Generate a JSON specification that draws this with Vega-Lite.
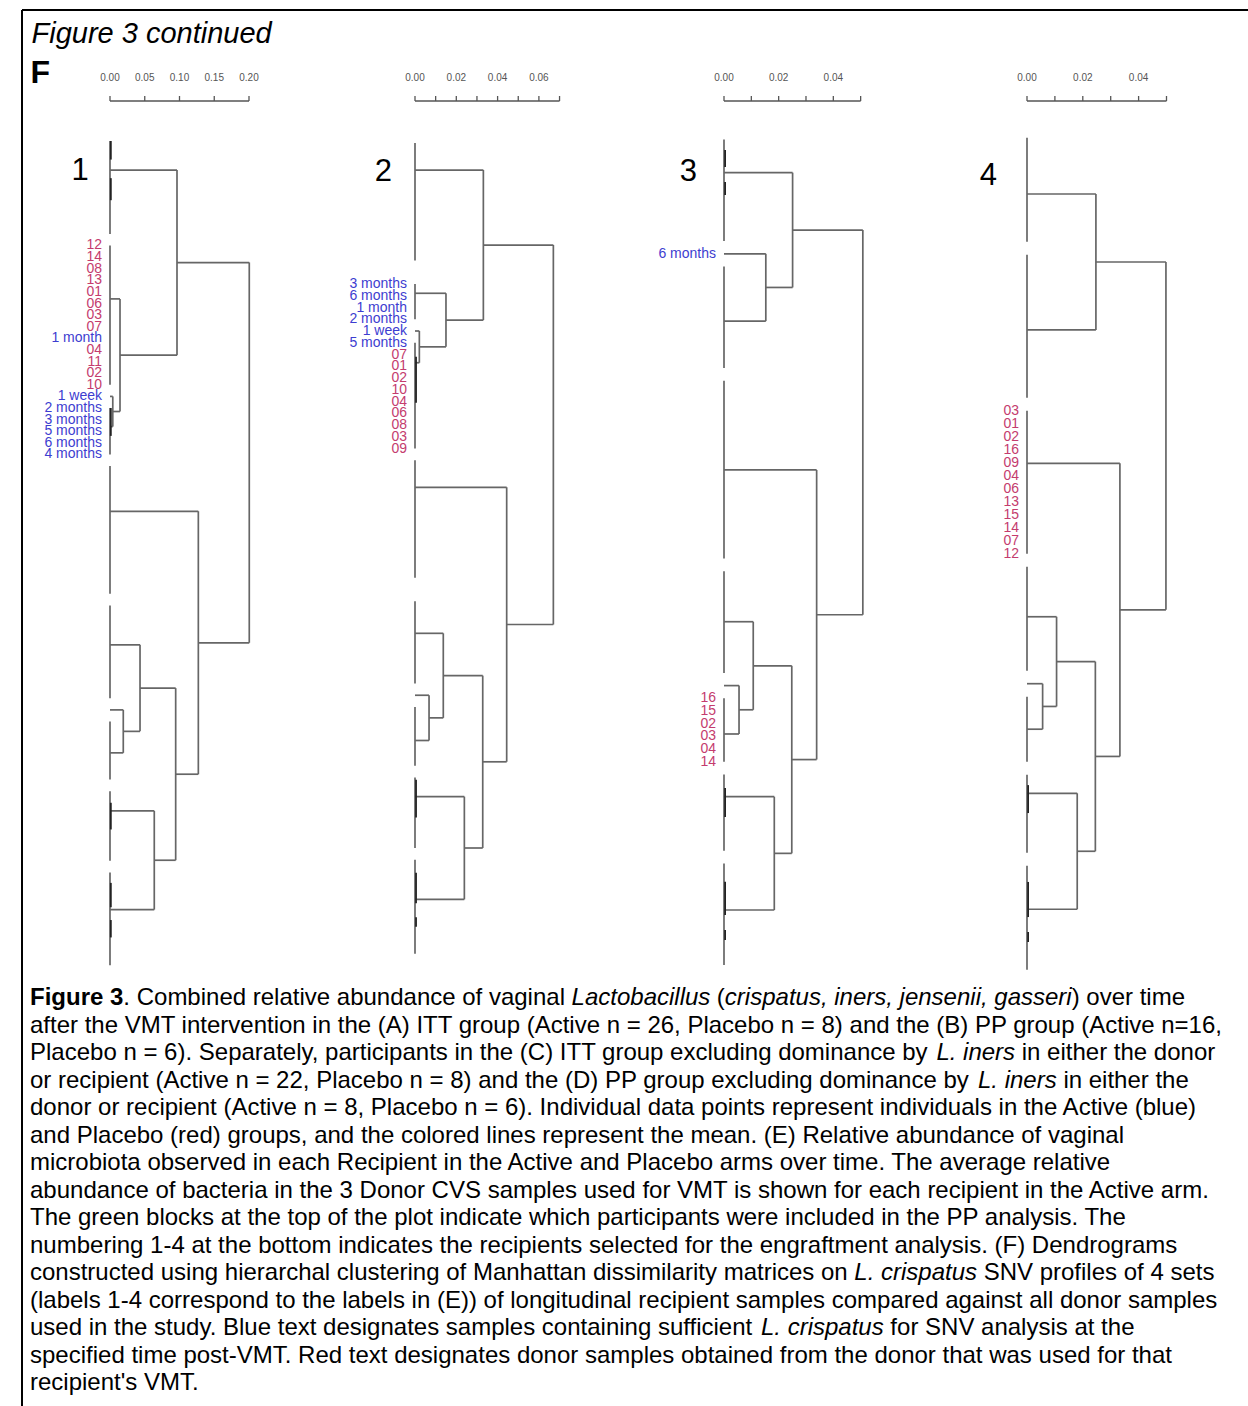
{
  "$schema": "https://vega.github.io/schema/vega-lite/v6.json",
  "width": 1224,
  "height": 1396,
  "autosize": {"type": "none"},
  "padding": {"left": 22, "top": 10, "right": 2, "bottom": 0},
  "background": "white",
  "config": {"view": {"stroke": null}, "font": "Liberation Sans"},
  "datasets": {
    "seg": [
      {"p":1,"k":"leaf","x":0,"x2":0,"y":1,"y2":9},
      {"p":1,"k":"leaf","x":0,"x2":0,"y":10,"y2":22},
      {"p":1,"k":"leaf","x":0,"x2":0,"y":24,"y2":28},
      {"p":1,"k":"leaf","x":0,"x2":0,"y":29,"y2":40},
      {"p":1,"k":"leaf","x":0,"x2":0,"y":41,"y2":49},
      {"p":1,"k":"leaf","x":0,"x2":0,"y":51,"y2":56},
      {"p":1,"k":"leaf","x":0,"x2":0,"y":57,"y2":63},
      {"p":1,"k":"leaf","x":0,"x2":0,"y":64,"y2":72},
      {"p":1,"k":"tight","x":0.0012,"x2":0.0012,"y":1,"y2":2.6},
      {"p":1,"k":"tight","x":0.0012,"x2":0.0012,"y":4.2,"y2":6.1},
      {"p":1,"k":"tight","x":0.0012,"x2":0.0012,"y":24,"y2":26.4},
      {"p":1,"k":"tight","x":0.0012,"x2":0.0012,"y":58,"y2":60.3},
      {"p":1,"k":"tight","x":0.0012,"x2":0.0012,"y":64.9,"y2":67},
      {"p":1,"k":"tight","x":0.0012,"x2":0.0012,"y":68.1,"y2":69.6},
      {"p":1,"k":"branch","x":0.004,"x2":0.004,"y":23,"y2":25.6},
      {"p":1,"k":"branch","x":0,"x2":0.004,"y":23,"y2":23},
      {"p":1,"k":"branch","x":0,"x2":0.004,"y":25.6,"y2":25.6},
      {"p":1,"k":"branch","x":0.0144,"x2":0.0144,"y":14.6,"y2":24.3},
      {"p":1,"k":"branch","x":0,"x2":0.0144,"y":14.6,"y2":14.6},
      {"p":1,"k":"branch","x":0.004,"x2":0.0144,"y":24.3,"y2":24.3},
      {"p":1,"k":"branch","x":0.0964,"x2":0.0964,"y":3.5,"y2":19.45},
      {"p":1,"k":"branch","x":0,"x2":0.0964,"y":3.5,"y2":3.5},
      {"p":1,"k":"branch","x":0.0144,"x2":0.0964,"y":19.45,"y2":19.45},
      {"p":1,"k":"branch","x":0.0191,"x2":0.0191,"y":50,"y2":53.7},
      {"p":1,"k":"branch","x":0,"x2":0.0191,"y":50,"y2":50},
      {"p":1,"k":"branch","x":0,"x2":0.0191,"y":53.7,"y2":53.7},
      {"p":1,"k":"branch","x":0.0432,"x2":0.0432,"y":44.4,"y2":51.85},
      {"p":1,"k":"branch","x":0,"x2":0.0432,"y":44.4,"y2":44.4},
      {"p":1,"k":"branch","x":0.0191,"x2":0.0432,"y":51.85,"y2":51.85},
      {"p":1,"k":"branch","x":0.0637,"x2":0.0637,"y":58.7,"y2":67.2},
      {"p":1,"k":"branch","x":0,"x2":0.0637,"y":58.7,"y2":58.7},
      {"p":1,"k":"branch","x":0,"x2":0.0637,"y":67.2,"y2":67.2},
      {"p":1,"k":"branch","x":0.0945,"x2":0.0945,"y":48.125,"y2":62.95},
      {"p":1,"k":"branch","x":0.0432,"x2":0.0945,"y":48.125,"y2":48.125},
      {"p":1,"k":"branch","x":0.0637,"x2":0.0945,"y":62.95,"y2":62.95},
      {"p":1,"k":"branch","x":0.1271,"x2":0.1271,"y":32.9,"y2":55.54},
      {"p":1,"k":"branch","x":0,"x2":0.1271,"y":32.9,"y2":32.9},
      {"p":1,"k":"branch","x":0.0945,"x2":0.1271,"y":55.54,"y2":55.54},
      {"p":1,"k":"branch","x":0.2004,"x2":0.2004,"y":11.475,"y2":44.22},
      {"p":1,"k":"branch","x":0.0964,"x2":0.2004,"y":11.475,"y2":11.475},
      {"p":1,"k":"branch","x":0.1271,"x2":0.2004,"y":44.22,"y2":44.22},

      {"p":2,"k":"leaf","x":0,"x2":0,"y":1,"y2":11},
      {"p":2,"k":"leaf","x":0,"x2":0,"y":13,"y2":16},
      {"p":2,"k":"leaf","x":0,"x2":0,"y":18,"y2":27},
      {"p":2,"k":"leaf","x":0,"x2":0,"y":28,"y2":38},
      {"p":2,"k":"leaf","x":0,"x2":0,"y":40,"y2":47},
      {"p":2,"k":"leaf","x":0,"x2":0,"y":49,"y2":54},
      {"p":2,"k":"leaf","x":0,"x2":0,"y":55,"y2":61},
      {"p":2,"k":"leaf","x":0,"x2":0,"y":62,"y2":70},
      {"p":2,"k":"tight","x":0.0005,"x2":0.0005,"y":19.2,"y2":23.1},
      {"p":2,"k":"tight","x":0.0005,"x2":0.0005,"y":55.2,"y2":58.4},
      {"p":2,"k":"tight","x":0.0005,"x2":0.0005,"y":63.1,"y2":65.7},
      {"p":2,"k":"tight","x":0.0005,"x2":0.0005,"y":66.9,"y2":67.7},
      {"p":2,"k":"branch","x":0.0021,"x2":0.0021,"y":17,"y2":19.7},
      {"p":2,"k":"branch","x":0,"x2":0.0021,"y":17,"y2":17},
      {"p":2,"k":"branch","x":0,"x2":0.0021,"y":19.7,"y2":19.7},
      {"p":2,"k":"branch","x":0.015,"x2":0.015,"y":13.79,"y2":18.35},
      {"p":2,"k":"branch","x":0,"x2":0.015,"y":13.79,"y2":13.79},
      {"p":2,"k":"branch","x":0.0021,"x2":0.015,"y":18.35,"y2":18.35},
      {"p":2,"k":"branch","x":0.0331,"x2":0.0331,"y":3.3,"y2":16.07},
      {"p":2,"k":"branch","x":0,"x2":0.0331,"y":3.3,"y2":3.3},
      {"p":2,"k":"branch","x":0.015,"x2":0.0331,"y":16.07,"y2":16.07},
      {"p":2,"k":"branch","x":0.0068,"x2":0.0068,"y":48,"y2":51.85},
      {"p":2,"k":"branch","x":0,"x2":0.0068,"y":48,"y2":48},
      {"p":2,"k":"branch","x":0,"x2":0.0068,"y":51.85,"y2":51.85},
      {"p":2,"k":"branch","x":0.0137,"x2":0.0137,"y":42.73,"y2":49.925},
      {"p":2,"k":"branch","x":0,"x2":0.0137,"y":42.73,"y2":42.73},
      {"p":2,"k":"branch","x":0.0068,"x2":0.0137,"y":49.925,"y2":49.925},
      {"p":2,"k":"branch","x":0.0239,"x2":0.0239,"y":56.63,"y2":65.37},
      {"p":2,"k":"branch","x":0,"x2":0.0239,"y":56.63,"y2":56.63},
      {"p":2,"k":"branch","x":0,"x2":0.0239,"y":65.37,"y2":65.37},
      {"p":2,"k":"branch","x":0.0328,"x2":0.0328,"y":46.33,"y2":61.0},
      {"p":2,"k":"branch","x":0.0137,"x2":0.0328,"y":46.33,"y2":46.33},
      {"p":2,"k":"branch","x":0.0239,"x2":0.0328,"y":61.0,"y2":61.0},
      {"p":2,"k":"branch","x":0.0444,"x2":0.0444,"y":30.3,"y2":53.665},
      {"p":2,"k":"branch","x":0,"x2":0.0444,"y":30.3,"y2":30.3},
      {"p":2,"k":"branch","x":0.0328,"x2":0.0444,"y":53.665,"y2":53.665},
      {"p":2,"k":"branch","x":0.067,"x2":0.067,"y":9.685,"y2":41.98},
      {"p":2,"k":"branch","x":0.0331,"x2":0.067,"y":9.685,"y2":9.685},
      {"p":2,"k":"branch","x":0.0444,"x2":0.067,"y":41.98,"y2":41.98},

      {"p":3,"k":"leaf","x":0,"x2":0,"y":1,"y2":9},
      {"p":3,"k":"leaf","x":0,"x2":0,"y":11,"y2":19},
      {"p":3,"k":"leaf","x":0,"x2":0,"y":20,"y2":34},
      {"p":3,"k":"leaf","x":0,"x2":0,"y":35,"y2":43},
      {"p":3,"k":"leaf","x":0,"x2":0,"y":45,"y2":50},
      {"p":3,"k":"leaf","x":0,"x2":0,"y":51,"y2":57},
      {"p":3,"k":"leaf","x":0,"x2":0,"y":58,"y2":66},
      {"p":3,"k":"tight","x":0.0004,"x2":0.0004,"y":1.83,"y2":3.17},
      {"p":3,"k":"tight","x":0.0004,"x2":0.0004,"y":4.35,"y2":5.37},
      {"p":3,"k":"tight","x":0.0004,"x2":0.0004,"y":52.06,"y2":54.35},
      {"p":3,"k":"tight","x":0.0004,"x2":0.0004,"y":59.44,"y2":62.06},
      {"p":3,"k":"tight","x":0.0004,"x2":0.0004,"y":63.24,"y2":64.03},
      {"p":3,"k":"branch","x":0.0153,"x2":0.0153,"y":10,"y2":15.3},
      {"p":3,"k":"branch","x":0,"x2":0.0153,"y":10,"y2":10},
      {"p":3,"k":"branch","x":0,"x2":0.0153,"y":15.3,"y2":15.3},
      {"p":3,"k":"branch","x":0.0251,"x2":0.0251,"y":3.61,"y2":12.65},
      {"p":3,"k":"branch","x":0,"x2":0.0251,"y":3.61,"y2":3.61},
      {"p":3,"k":"branch","x":0.0153,"x2":0.0251,"y":12.65,"y2":12.65},
      {"p":3,"k":"branch","x":0.0055,"x2":0.0055,"y":44,"y2":47.81},
      {"p":3,"k":"branch","x":0,"x2":0.0055,"y":44,"y2":44},
      {"p":3,"k":"branch","x":0,"x2":0.0055,"y":47.81,"y2":47.81},
      {"p":3,"k":"branch","x":0.0107,"x2":0.0107,"y":38.97,"y2":45.905},
      {"p":3,"k":"branch","x":0,"x2":0.0107,"y":38.97,"y2":38.97},
      {"p":3,"k":"branch","x":0.0055,"x2":0.0107,"y":45.905,"y2":45.905},
      {"p":3,"k":"branch","x":0.0184,"x2":0.0184,"y":52.75,"y2":61.67},
      {"p":3,"k":"branch","x":0,"x2":0.0184,"y":52.75,"y2":52.75},
      {"p":3,"k":"branch","x":0,"x2":0.0184,"y":61.67,"y2":61.67},
      {"p":3,"k":"branch","x":0.0248,"x2":0.0248,"y":42.44,"y2":57.21},
      {"p":3,"k":"branch","x":0.0107,"x2":0.0248,"y":42.44,"y2":42.44},
      {"p":3,"k":"branch","x":0.0184,"x2":0.0248,"y":57.21,"y2":57.21},
      {"p":3,"k":"branch","x":0.0339,"x2":0.0339,"y":27.02,"y2":49.825},
      {"p":3,"k":"branch","x":0,"x2":0.0339,"y":27.02,"y2":27.02},
      {"p":3,"k":"branch","x":0.0248,"x2":0.0339,"y":49.825,"y2":49.825},
      {"p":3,"k":"branch","x":0.0508,"x2":0.0508,"y":8.13,"y2":38.42},
      {"p":3,"k":"branch","x":0.0251,"x2":0.0508,"y":8.13,"y2":8.13},
      {"p":3,"k":"branch","x":0.0339,"x2":0.0508,"y":38.42,"y2":38.42},

      {"p":4,"k":"leaf","x":0,"x2":0,"y":1,"y2":9},
      {"p":4,"k":"leaf","x":0,"x2":0,"y":10,"y2":21},
      {"p":4,"k":"leaf","x":0,"x2":0,"y":22,"y2":33},
      {"p":4,"k":"leaf","x":0,"x2":0,"y":34,"y2":42},
      {"p":4,"k":"leaf","x":0,"x2":0,"y":44,"y2":49},
      {"p":4,"k":"leaf","x":0,"x2":0,"y":50,"y2":56},
      {"p":4,"k":"leaf","x":0,"x2":0,"y":57,"y2":65},
      {"p":4,"k":"tight","x":0.0004,"x2":0.0004,"y":50.8,"y2":52.95},
      {"p":4,"k":"tight","x":0.0004,"x2":0.0004,"y":58.25,"y2":60.95},
      {"p":4,"k":"tight","x":0.0004,"x2":0.0004,"y":62.1,"y2":62.87},
      {"p":4,"k":"branch","x":0.0247,"x2":0.0247,"y":5.33,"y2":15.79},
      {"p":4,"k":"branch","x":0,"x2":0.0247,"y":5.33,"y2":5.33},
      {"p":4,"k":"branch","x":0,"x2":0.0247,"y":15.79,"y2":15.79},
      {"p":4,"k":"branch","x":0.0056,"x2":0.0056,"y":43,"y2":46.5},
      {"p":4,"k":"branch","x":0,"x2":0.0056,"y":43,"y2":43},
      {"p":4,"k":"branch","x":0,"x2":0.0056,"y":46.5,"y2":46.5},
      {"p":4,"k":"branch","x":0.0106,"x2":0.0106,"y":37.85,"y2":44.75},
      {"p":4,"k":"branch","x":0,"x2":0.0106,"y":37.85,"y2":37.85},
      {"p":4,"k":"branch","x":0.0056,"x2":0.0106,"y":44.75,"y2":44.75},
      {"p":4,"k":"branch","x":0.018,"x2":0.018,"y":51.43,"y2":60.35},
      {"p":4,"k":"branch","x":0,"x2":0.018,"y":51.43,"y2":51.43},
      {"p":4,"k":"branch","x":0,"x2":0.018,"y":60.35,"y2":60.35},
      {"p":4,"k":"branch","x":0.0245,"x2":0.0245,"y":41.3,"y2":55.89},
      {"p":4,"k":"branch","x":0.0106,"x2":0.0245,"y":41.3,"y2":41.3},
      {"p":4,"k":"branch","x":0.018,"x2":0.0245,"y":55.89,"y2":55.89},
      {"p":4,"k":"branch","x":0.0333,"x2":0.0333,"y":26.05,"y2":48.595},
      {"p":4,"k":"branch","x":0,"x2":0.0333,"y":26.05,"y2":26.05},
      {"p":4,"k":"branch","x":0.0245,"x2":0.0333,"y":48.595,"y2":48.595},
      {"p":4,"k":"branch","x":0.0498,"x2":0.0498,"y":10.56,"y2":37.32},
      {"p":4,"k":"branch","x":0.0247,"x2":0.0498,"y":10.56,"y2":10.56},
      {"p":4,"k":"branch","x":0.0333,"x2":0.0498,"y":37.32,"y2":37.32}
    ],
    "lab": [
      {"p":1,"i":10,"t":"12","g":"donor"},
      {"p":1,"i":11,"t":"14","g":"donor"},
      {"p":1,"i":12,"t":"08","g":"donor"},
      {"p":1,"i":13,"t":"13","g":"donor"},
      {"p":1,"i":14,"t":"01","g":"donor"},
      {"p":1,"i":15,"t":"06","g":"donor"},
      {"p":1,"i":16,"t":"03","g":"donor"},
      {"p":1,"i":17,"t":"07","g":"donor"},
      {"p":1,"i":18,"t":"1 month","g":"recipient"},
      {"p":1,"i":19,"t":"04","g":"donor"},
      {"p":1,"i":20,"t":"11","g":"donor"},
      {"p":1,"i":21,"t":"02","g":"donor"},
      {"p":1,"i":22,"t":"10","g":"donor"},
      {"p":1,"i":23,"t":"1 week","g":"recipient"},
      {"p":1,"i":24,"t":"2 months","g":"recipient"},
      {"p":1,"i":25,"t":"3 months","g":"recipient"},
      {"p":1,"i":26,"t":"5 months","g":"recipient"},
      {"p":1,"i":27,"t":"6 months","g":"recipient"},
      {"p":1,"i":28,"t":"4 months","g":"recipient"},
      {"p":2,"i":13,"t":"3 months","g":"recipient"},
      {"p":2,"i":14,"t":"6 months","g":"recipient"},
      {"p":2,"i":15,"t":"1 month","g":"recipient"},
      {"p":2,"i":16,"t":"2 months","g":"recipient"},
      {"p":2,"i":17,"t":"1 week","g":"recipient"},
      {"p":2,"i":18,"t":"5 months","g":"recipient"},
      {"p":2,"i":19,"t":"07","g":"donor"},
      {"p":2,"i":20,"t":"01","g":"donor"},
      {"p":2,"i":21,"t":"02","g":"donor"},
      {"p":2,"i":22,"t":"10","g":"donor"},
      {"p":2,"i":23,"t":"04","g":"donor"},
      {"p":2,"i":24,"t":"06","g":"donor"},
      {"p":2,"i":25,"t":"08","g":"donor"},
      {"p":2,"i":26,"t":"03","g":"donor"},
      {"p":2,"i":27,"t":"09","g":"donor"},
      {"p":3,"i":10,"t":"6 months","g":"recipient"},
      {"p":3,"i":45,"t":"16","g":"donor"},
      {"p":3,"i":46,"t":"15","g":"donor"},
      {"p":3,"i":47,"t":"02","g":"donor"},
      {"p":3,"i":48,"t":"03","g":"donor"},
      {"p":3,"i":49,"t":"04","g":"donor"},
      {"p":3,"i":50,"t":"14","g":"donor"},
      {"p":4,"i":22,"t":"03","g":"donor"},
      {"p":4,"i":23,"t":"01","g":"donor"},
      {"p":4,"i":24,"t":"02","g":"donor"},
      {"p":4,"i":25,"t":"16","g":"donor"},
      {"p":4,"i":26,"t":"09","g":"donor"},
      {"p":4,"i":27,"t":"04","g":"donor"},
      {"p":4,"i":28,"t":"06","g":"donor"},
      {"p":4,"i":29,"t":"13","g":"donor"},
      {"p":4,"i":30,"t":"15","g":"donor"},
      {"p":4,"i":31,"t":"14","g":"donor"},
      {"p":4,"i":32,"t":"07","g":"donor"},
      {"p":4,"i":33,"t":"12","g":"donor"}
    ],
    "nums": [
      {"p":1,"n":"1"},{"p":2,"n":"2"},{"p":3,"n":"3"},{"p":4,"n":"4"}
    ],
    "bars": [
      {"p":1,"from":0,"to":0.2},
      {"p":2,"from":0,"to":0.07},
      {"p":3,"from":0,"to":0.05},
      {"p":4,"from":0,"to":0.05}
    ],
    "ticks": [
      {"p":1,"v":0,"lab":"0.00"},{"p":1,"v":0.05,"lab":"0.05"},{"p":1,"v":0.1,"lab":"0.10"},{"p":1,"v":0.15,"lab":"0.15"},{"p":1,"v":0.2,"lab":"0.20"},
      {"p":2,"v":0,"lab":"0.00"},{"p":2,"v":0.01,"lab":""},{"p":2,"v":0.02,"lab":"0.02"},{"p":2,"v":0.03,"lab":""},{"p":2,"v":0.04,"lab":"0.04"},{"p":2,"v":0.05,"lab":""},{"p":2,"v":0.06,"lab":"0.06"},{"p":2,"v":0.07,"lab":""},
      {"p":3,"v":0,"lab":"0.00"},{"p":3,"v":0.01,"lab":""},{"p":3,"v":0.02,"lab":"0.02"},{"p":3,"v":0.03,"lab":""},{"p":3,"v":0.04,"lab":"0.04"},{"p":3,"v":0.05,"lab":""},
      {"p":4,"v":0,"lab":"0.00"},{"p":4,"v":0.01,"lab":""},{"p":4,"v":0.02,"lab":"0.02"},{"p":4,"v":0.03,"lab":""},{"p":4,"v":0.04,"lab":"0.04"},{"p":4,"v":0.05,"lab":""}
    ],
    "cap": [
      {"s":"title","text":"Figure 3 continued"},
      {"s":"letter","text":"F"},
      {"s":"b1","line":1,"text":"Figure 3"},
      {"s":"n1a","line":1,"text":". Combined relative abundance of vaginal"},
      {"s":"i1a","line":1,"text":"Lactobacillus"},
      {"s":"n1b","line":1,"text":"("},
      {"s":"i1b","line":1,"text":"crispatus, iners, jensenii, gasseri"},
      {"s":"n1c","line":1,"text":") over time"},
      {"s":"body","line":2,"text":"after the VMT intervention in the (A) ITT group (Active n = 26, Placebo n = 8) and the (B) PP group (Active n=16,"},
      {"s":"body","line":3,"text":"Placebo n = 6). Separately, participants in the (C) ITT group excluding dominance by"},
      {"s":"i3","line":3,"text":"L. iners"},
      {"s":"n3","line":3,"text":"in either the donor"},
      {"s":"body","line":4,"text":"or recipient (Active n = 22, Placebo n = 8) and the (D) PP group excluding dominance by"},
      {"s":"i4","line":4,"text":"L. iners"},
      {"s":"n4","line":4,"text":"in either the"},
      {"s":"body","line":5,"text":"donor or recipient (Active n = 8, Placebo n = 6). Individual data points represent individuals in the Active (blue)"},
      {"s":"body","line":6,"text":"and Placebo (red) groups, and the colored lines represent the mean. (E) Relative abundance of vaginal"},
      {"s":"body","line":7,"text":"microbiota observed in each Recipient in the Active and Placebo arms over time. The average relative"},
      {"s":"body","line":8,"text":"abundance of bacteria in the 3 Donor CVS samples used for VMT is shown for each recipient in the Active arm."},
      {"s":"body","line":9,"text":"The green blocks at the top of the plot indicate which participants were included in the PP analysis. The"},
      {"s":"body","line":10,"text":"numbering 1-4 at the bottom indicates the recipients selected for the engraftment analysis.  (F) Dendrograms"},
      {"s":"body","line":11,"text":"constructed using hierarchal clustering of Manhattan dissimilarity matrices on"},
      {"s":"i11","line":11,"text":"L. crispatus"},
      {"s":"n11","line":11,"text":"SNV profiles of 4 sets"},
      {"s":"body","line":12,"text":"(labels 1-4 correspond to the labels in (E)) of longitudinal recipient samples compared against all donor samples"},
      {"s":"body","line":13,"text":"used in the study. Blue text designates samples containing sufficient"},
      {"s":"i13","line":13,"text":"L. crispatus"},
      {"s":"n13","line":13,"text":"for SNV analysis at the"},
      {"s":"body","line":14,"text":"specified time post-VMT. Red text designates donor samples obtained from the donor that was used for that"},
      {"s":"body","line":15,"text":"recipient's VMT."}
    ]
  },
  "layer": [
    {
      "layer": [
        {
          "data": {"name": "seg"},
          "transform": [{"filter": "datum.p == 1 && datum.k != 'tight'"}],
          "mark": {"type": "rule", "stroke": "#666666", "strokeWidth": 1.7},
          "encoding": {
            "x": {"field": "x", "type": "quantitative", "scale": {"domain": [-0.126619, 1.634532], "nice": false, "zero": false}, "axis": null},
            "x2": {"field": "x2"},
            "y": {"field": "y", "type": "quantitative", "scale": {"domain": [-10.28338, 109.95779], "reverse": true, "nice": false, "zero": false}, "axis": null},
            "y2": {"field": "y2"}
          }
        },
        {
          "data": {"name": "seg"},
          "transform": [{"filter": "datum.p == 1 && datum.k == 'tight'"}],
          "mark": {"type": "rule", "stroke": "#222222", "strokeWidth": 1.8},
          "encoding": {
            "x": {"field": "x", "type": "quantitative", "axis": null},
            "x2": {"field": "x2"},
            "y": {"field": "y", "type": "quantitative", "axis": null},
            "y2": {"field": "y2"}
          }
        },
        {
          "data": {"name": "lab"},
          "transform": [{"filter": "datum.p == 1"}],
          "mark": {"type": "text", "align": "right", "baseline": "middle", "dx": -8, "fontSize": 14, "font": "Liberation Sans"},
          "encoding": {
            "x": {"datum": 0, "type": "quantitative", "axis": null},
            "y": {"field": "i", "type": "quantitative", "axis": null},
            "text": {"field": "t"},
            "color": {"field": "g", "type": "nominal", "scale": {"domain": ["donor", "recipient"], "range": ["#c43c6e", "#3d3dd0"]}, "legend": null}
          }
        },
        {
          "data": {"name": "nums"},
          "transform": [{"filter": "datum.p == 1"}],
          "mark": {"type": "text", "align": "center", "baseline": "middle", "dx": -30, "fontSize": 31, "font": "Liberation Sans", "color": "#000000"},
          "encoding": {
            "x": {"datum": 0, "type": "quantitative", "axis": null},
            "y": {"datum": 3.58, "type": "quantitative", "axis": null},
            "text": {"field": "n"}
          }
        },
        {
          "data": {"name": "bars"},
          "transform": [{"filter": "datum.p == 1"}],
          "mark": {"type": "rule", "stroke": "#555555", "strokeWidth": 1.4},
          "encoding": {
            "x": {"field": "from", "type": "quantitative", "axis": null},
            "x2": {"field": "to"},
            "y": {"datum": -2.4453, "type": "quantitative", "axis": null}
          }
        },
        {
          "data": {"name": "ticks"},
          "transform": [{"filter": "datum.p == 1"}],
          "mark": {"type": "rule", "stroke": "#555555", "strokeWidth": 1.3},
          "encoding": {
            "x": {"field": "v", "type": "quantitative", "axis": null},
            "y": {"datum": -2.876, "type": "quantitative", "axis": null},
            "y2": {"datum": -2.4453}
          }
        },
        {
          "data": {"name": "ticks"},
          "transform": [{"filter": "datum.p == 1 && datum.lab != ''"}],
          "mark": {"type": "text", "align": "center", "baseline": "middle", "fontSize": 10, "font": "Liberation Sans", "color": "#555555"},
          "encoding": {
            "x": {"field": "v", "type": "quantitative", "axis": null},
            "y": {"datum": -4.426, "type": "quantitative", "axis": null},
            "text": {"field": "lab"}
          }
        }
      ]
    },
    {
      "layer": [
        {
          "data": {"name": "seg"},
          "transform": [{"filter": "datum.p == 2 && datum.k != 'tight'"}],
          "mark": {"type": "rule", "stroke": "#666666", "strokeWidth": 1.7},
          "encoding": {
            "x": {"field": "x", "type": "quantitative", "scale": {"domain": [-0.190315, 0.402421], "nice": false, "zero": false}, "axis": null},
            "x2": {"field": "x2"},
            "y": {"field": "y", "type": "quantitative", "scale": {"domain": [-10.31915, 108.48936], "reverse": true, "nice": false, "zero": false}, "axis": null},
            "y2": {"field": "y2"}
          }
        },
        {
          "data": {"name": "seg"},
          "transform": [{"filter": "datum.p == 2 && datum.k == 'tight'"}],
          "mark": {"type": "rule", "stroke": "#222222", "strokeWidth": 1.8},
          "encoding": {
            "x": {"field": "x", "type": "quantitative", "axis": null},
            "x2": {"field": "x2"},
            "y": {"field": "y", "type": "quantitative", "axis": null},
            "y2": {"field": "y2"}
          }
        },
        {
          "data": {"name": "lab"},
          "transform": [{"filter": "datum.p == 2"}],
          "mark": {"type": "text", "align": "right", "baseline": "middle", "dx": -8, "fontSize": 14, "font": "Liberation Sans"},
          "encoding": {
            "x": {"datum": 0, "type": "quantitative", "axis": null},
            "y": {"field": "i", "type": "quantitative", "axis": null},
            "text": {"field": "t"},
            "color": {"field": "g", "type": "nominal", "scale": {"domain": ["donor", "recipient"], "range": ["#c43c6e", "#3d3dd0"]}, "legend": null}
          }
        },
        {
          "data": {"name": "nums"},
          "transform": [{"filter": "datum.p == 2"}],
          "mark": {"type": "text", "align": "center", "baseline": "middle", "dx": -31.7, "fontSize": 31, "font": "Liberation Sans", "color": "#000000"},
          "encoding": {
            "x": {"datum": 0, "type": "quantitative", "axis": null},
            "y": {"datum": 3.43, "type": "quantitative", "axis": null},
            "text": {"field": "n"}
          }
        },
        {
          "data": {"name": "bars"},
          "transform": [{"filter": "datum.p == 2"}],
          "mark": {"type": "rule", "stroke": "#555555", "strokeWidth": 1.4},
          "encoding": {
            "x": {"field": "from", "type": "quantitative", "axis": null},
            "x2": {"field": "to"},
            "y": {"datum": -2.5745, "type": "quantitative", "axis": null}
          }
        },
        {
          "data": {"name": "ticks"},
          "transform": [{"filter": "datum.p == 2"}],
          "mark": {"type": "rule", "stroke": "#555555", "strokeWidth": 1.3},
          "encoding": {
            "x": {"field": "v", "type": "quantitative", "axis": null},
            "y": {"datum": -3.0, "type": "quantitative", "axis": null},
            "y2": {"datum": -2.5745}
          }
        },
        {
          "data": {"name": "ticks"},
          "transform": [{"filter": "datum.p == 2 && datum.lab != ''"}],
          "mark": {"type": "text", "align": "center", "baseline": "middle", "fontSize": 10, "font": "Liberation Sans", "color": "#555555"},
          "encoding": {
            "x": {"field": "v", "type": "quantitative", "axis": null},
            "y": {"datum": -4.532, "type": "quantitative", "axis": null},
            "text": {"field": "lab"}
          }
        }
      ]
    },
    {
      "layer": [
        {
          "data": {"name": "seg"},
          "transform": [{"filter": "datum.p == 3 && datum.k != 'tight'"}],
          "mark": {"type": "rule", "stroke": "#666666", "strokeWidth": 1.7},
          "encoding": {
            "x": {"field": "x", "type": "quantitative", "scale": {"domain": [-0.25686, 0.190999], "nice": false, "zero": false}, "axis": null},
            "x2": {"field": "x2"},
            "y": {"field": "y", "type": "quantitative", "scale": {"domain": [-9.19685, 100.72441], "reverse": true, "nice": false, "zero": false}, "axis": null},
            "y2": {"field": "y2"}
          }
        },
        {
          "data": {"name": "seg"},
          "transform": [{"filter": "datum.p == 3 && datum.k == 'tight'"}],
          "mark": {"type": "rule", "stroke": "#222222", "strokeWidth": 1.8},
          "encoding": {
            "x": {"field": "x", "type": "quantitative", "axis": null},
            "x2": {"field": "x2"},
            "y": {"field": "y", "type": "quantitative", "axis": null},
            "y2": {"field": "y2"}
          }
        },
        {
          "data": {"name": "lab"},
          "transform": [{"filter": "datum.p == 3"}],
          "mark": {"type": "text", "align": "right", "baseline": "middle", "dx": -8, "fontSize": 14, "font": "Liberation Sans"},
          "encoding": {
            "x": {"datum": 0, "type": "quantitative", "axis": null},
            "y": {"field": "i", "type": "quantitative", "axis": null},
            "text": {"field": "t"},
            "color": {"field": "g", "type": "nominal", "scale": {"domain": ["donor", "recipient"], "range": ["#c43c6e", "#3d3dd0"]}, "legend": null}
          }
        },
        {
          "data": {"name": "nums"},
          "transform": [{"filter": "datum.p == 3"}],
          "mark": {"type": "text", "align": "center", "baseline": "middle", "dx": -35.7, "fontSize": 31, "font": "Liberation Sans", "color": "#000000"},
          "encoding": {
            "x": {"datum": 0, "type": "quantitative", "axis": null},
            "y": {"datum": 3.52, "type": "quantitative", "axis": null},
            "text": {"field": "n"}
          }
        },
        {
          "data": {"name": "bars"},
          "transform": [{"filter": "datum.p == 3"}],
          "mark": {"type": "rule", "stroke": "#555555", "strokeWidth": 1.4},
          "encoding": {
            "x": {"field": "from", "type": "quantitative", "axis": null},
            "x2": {"field": "to"},
            "y": {"datum": -2.0315, "type": "quantitative", "axis": null}
          }
        },
        {
          "data": {"name": "ticks"},
          "transform": [{"filter": "datum.p == 3"}],
          "mark": {"type": "rule", "stroke": "#555555", "strokeWidth": 1.3},
          "encoding": {
            "x": {"field": "v", "type": "quantitative", "axis": null},
            "y": {"datum": -2.425, "type": "quantitative", "axis": null},
            "y2": {"datum": -2.0315}
          }
        },
        {
          "data": {"name": "ticks"},
          "transform": [{"filter": "datum.p == 3 && datum.lab != ''"}],
          "mark": {"type": "text", "align": "center", "baseline": "middle", "fontSize": 10, "font": "Liberation Sans", "color": "#555555"},
          "encoding": {
            "x": {"field": "v", "type": "quantitative", "axis": null},
            "y": {"datum": -3.843, "type": "quantitative", "axis": null},
            "text": {"field": "lab"}
          }
        }
      ]
    },
    {
      "layer": [
        {
          "data": {"name": "seg"},
          "transform": [{"filter": "datum.p == 4 && datum.k != 'tight'"}],
          "mark": {"type": "rule", "stroke": "#666666", "strokeWidth": 1.7},
          "encoding": {
            "x": {"field": "x", "type": "quantitative", "scale": {"domain": [-0.360215, 0.078495], "nice": false, "zero": false}, "axis": null},
            "x2": {"field": "x2"},
            "y": {"field": "y", "type": "quantitative", "scale": {"domain": [-8.82308, 98.56154], "reverse": true, "nice": false, "zero": false}, "axis": null},
            "y2": {"field": "y2"}
          }
        },
        {
          "data": {"name": "seg"},
          "transform": [{"filter": "datum.p == 4 && datum.k == 'tight'"}],
          "mark": {"type": "rule", "stroke": "#222222", "strokeWidth": 1.8},
          "encoding": {
            "x": {"field": "x", "type": "quantitative", "axis": null},
            "x2": {"field": "x2"},
            "y": {"field": "y", "type": "quantitative", "axis": null},
            "y2": {"field": "y2"}
          }
        },
        {
          "data": {"name": "lab"},
          "transform": [{"filter": "datum.p == 4"}],
          "mark": {"type": "text", "align": "right", "baseline": "middle", "dx": -8, "fontSize": 14, "font": "Liberation Sans"},
          "encoding": {
            "x": {"datum": 0, "type": "quantitative", "axis": null},
            "y": {"field": "i", "type": "quantitative", "axis": null},
            "text": {"field": "t"},
            "color": {"field": "g", "type": "nominal", "scale": {"domain": ["donor", "recipient"], "range": ["#c43c6e", "#3d3dd0"]}, "legend": null}
          }
        },
        {
          "data": {"name": "nums"},
          "transform": [{"filter": "datum.p == 4"}],
          "mark": {"type": "text", "align": "center", "baseline": "middle", "dx": -38.7, "fontSize": 31, "font": "Liberation Sans", "color": "#000000"},
          "encoding": {
            "x": {"datum": 0, "type": "quantitative", "axis": null},
            "y": {"datum": 3.95, "type": "quantitative", "axis": null},
            "text": {"field": "n"}
          }
        },
        {
          "data": {"name": "bars"},
          "transform": [{"filter": "datum.p == 4"}],
          "mark": {"type": "rule", "stroke": "#555555", "strokeWidth": 1.4},
          "encoding": {
            "x": {"field": "from", "type": "quantitative", "axis": null},
            "x2": {"field": "to"},
            "y": {"datum": -1.8231, "type": "quantitative", "axis": null}
          }
        },
        {
          "data": {"name": "ticks"},
          "transform": [{"filter": "datum.p == 4"}],
          "mark": {"type": "rule", "stroke": "#555555", "strokeWidth": 1.3},
          "encoding": {
            "x": {"field": "v", "type": "quantitative", "axis": null},
            "y": {"datum": -2.208, "type": "quantitative", "axis": null},
            "y2": {"datum": -1.8231}
          }
        },
        {
          "data": {"name": "ticks"},
          "transform": [{"filter": "datum.p == 4 && datum.lab != ''"}],
          "mark": {"type": "text", "align": "center", "baseline": "middle", "fontSize": 10, "font": "Liberation Sans", "color": "#555555"},
          "encoding": {
            "x": {"field": "v", "type": "quantitative", "axis": null},
            "y": {"datum": -3.592, "type": "quantitative", "axis": null},
            "text": {"field": "lab"}
          }
        }
      ]
    },
    {
      "layer": [
        {
          "data": {"name": "cap"},
          "transform": [{"filter": "datum.s == 'body'"}],
          "mark": {"type": "text", "align": "left", "baseline": "alphabetic", "fontSize": 24, "font": "Liberation Sans", "color": "#000000"},
          "encoding": {
            "x": {"datum": 0, "type": "quantitative", "scale": {"domain": [-8, 1216], "nice": false, "zero": false}, "axis": null},
            "y": {"field": "line", "type": "quantitative", "scale": {"domain": [-35.1818, 15.5818], "reverse": true, "nice": false, "zero": false}, "axis": null},
            "text": {"field": "text"}
          }
        },
        {
          "data": {"name": "cap"},
          "transform": [{"filter": "datum.s == 'b1'"}],
          "mark": {"type": "text", "align": "left", "baseline": "alphabetic", "fontSize": 24, "fontWeight": "bold", "font": "Liberation Sans", "color": "#000000"},
          "encoding": {"x": {"datum": 0, "type": "quantitative", "axis": null}, "y": {"field": "line", "type": "quantitative", "axis": null}, "text": {"field": "text"}}
        },
        {
          "data": {"name": "cap"},
          "transform": [{"filter": "datum.s == 'n1a'"}],
          "mark": {"type": "text", "align": "left", "baseline": "alphabetic", "dx": 93.36, "fontSize": 24, "font": "Liberation Sans", "color": "#000000"},
          "encoding": {"x": {"datum": 0, "type": "quantitative", "axis": null}, "y": {"field": "line", "type": "quantitative", "axis": null}, "text": {"field": "text"}}
        },
        {
          "data": {"name": "cap"},
          "transform": [{"filter": "datum.s == 'i1a'"}],
          "mark": {"type": "text", "align": "left", "baseline": "alphabetic", "dx": 541.58, "fontSize": 24, "fontStyle": "italic", "font": "Liberation Sans", "color": "#000000"},
          "encoding": {"x": {"datum": 0, "type": "quantitative", "axis": null}, "y": {"field": "line", "type": "quantitative", "axis": null}, "text": {"field": "text"}}
        },
        {
          "data": {"name": "cap"},
          "transform": [{"filter": "datum.s == 'n1b'"}],
          "mark": {"type": "text", "align": "left", "baseline": "alphabetic", "dx": 686.87, "fontSize": 24, "font": "Liberation Sans", "color": "#000000"},
          "encoding": {"x": {"datum": 0, "type": "quantitative", "axis": null}, "y": {"field": "line", "type": "quantitative", "axis": null}, "text": {"field": "text"}}
        },
        {
          "data": {"name": "cap"},
          "transform": [{"filter": "datum.s == 'i1b'"}],
          "mark": {"type": "text", "align": "left", "baseline": "alphabetic", "dx": 694.86, "fontSize": 24, "fontStyle": "italic", "font": "Liberation Sans", "color": "#000000"},
          "encoding": {"x": {"datum": 0, "type": "quantitative", "axis": null}, "y": {"field": "line", "type": "quantitative", "axis": null}, "text": {"field": "text"}}
        },
        {
          "data": {"name": "cap"},
          "transform": [{"filter": "datum.s == 'n1c'"}],
          "mark": {"type": "text", "align": "left", "baseline": "alphabetic", "dx": 1041.64, "fontSize": 24, "font": "Liberation Sans", "color": "#000000"},
          "encoding": {"x": {"datum": 0, "type": "quantitative", "axis": null}, "y": {"field": "line", "type": "quantitative", "axis": null}, "text": {"field": "text"}}
        },
        {
          "data": {"name": "cap"},
          "transform": [{"filter": "datum.s == 'i3'"}],
          "mark": {"type": "text", "align": "left", "baseline": "alphabetic", "dx": 906.4, "fontSize": 24, "fontStyle": "italic", "font": "Liberation Sans", "color": "#000000"},
          "encoding": {"x": {"datum": 0, "type": "quantitative", "axis": null}, "y": {"field": "line", "type": "quantitative", "axis": null}, "text": {"field": "text"}}
        },
        {
          "data": {"name": "cap"},
          "transform": [{"filter": "datum.s == 'n3'"}],
          "mark": {"type": "text", "align": "left", "baseline": "alphabetic", "dx": 991.77, "fontSize": 24, "font": "Liberation Sans", "color": "#000000"},
          "encoding": {"x": {"datum": 0, "type": "quantitative", "axis": null}, "y": {"field": "line", "type": "quantitative", "axis": null}, "text": {"field": "text"}}
        },
        {
          "data": {"name": "cap"},
          "transform": [{"filter": "datum.s == 'i4'"}],
          "mark": {"type": "text", "align": "left", "baseline": "alphabetic", "dx": 948.0, "fontSize": 24, "fontStyle": "italic", "font": "Liberation Sans", "color": "#000000"},
          "encoding": {"x": {"datum": 0, "type": "quantitative", "axis": null}, "y": {"field": "line", "type": "quantitative", "axis": null}, "text": {"field": "text"}}
        },
        {
          "data": {"name": "cap"},
          "transform": [{"filter": "datum.s == 'n4'"}],
          "mark": {"type": "text", "align": "left", "baseline": "alphabetic", "dx": 1033.4, "fontSize": 24, "font": "Liberation Sans", "color": "#000000"},
          "encoding": {"x": {"datum": 0, "type": "quantitative", "axis": null}, "y": {"field": "line", "type": "quantitative", "axis": null}, "text": {"field": "text"}}
        },
        {
          "data": {"name": "cap"},
          "transform": [{"filter": "datum.s == 'i11'"}],
          "mark": {"type": "text", "align": "left", "baseline": "alphabetic", "dx": 824.3, "fontSize": 24, "fontStyle": "italic", "font": "Liberation Sans", "color": "#000000"},
          "encoding": {"x": {"datum": 0, "type": "quantitative", "axis": null}, "y": {"field": "line", "type": "quantitative", "axis": null}, "text": {"field": "text"}}
        },
        {
          "data": {"name": "cap"},
          "transform": [{"filter": "datum.s == 'n11'"}],
          "mark": {"type": "text", "align": "left", "baseline": "alphabetic", "dx": 953.67, "fontSize": 24, "font": "Liberation Sans", "color": "#000000"},
          "encoding": {"x": {"datum": 0, "type": "quantitative", "axis": null}, "y": {"field": "line", "type": "quantitative", "axis": null}, "text": {"field": "text"}}
        },
        {
          "data": {"name": "cap"},
          "transform": [{"filter": "datum.s == 'i13'"}],
          "mark": {"type": "text", "align": "left", "baseline": "alphabetic", "dx": 731.0, "fontSize": 24, "fontStyle": "italic", "font": "Liberation Sans", "color": "#000000"},
          "encoding": {"x": {"datum": 0, "type": "quantitative", "axis": null}, "y": {"field": "line", "type": "quantitative", "axis": null}, "text": {"field": "text"}}
        },
        {
          "data": {"name": "cap"},
          "transform": [{"filter": "datum.s == 'n13'"}],
          "mark": {"type": "text", "align": "left", "baseline": "alphabetic", "dx": 860.37, "fontSize": 24, "font": "Liberation Sans", "color": "#000000"},
          "encoding": {"x": {"datum": 0, "type": "quantitative", "axis": null}, "y": {"field": "line", "type": "quantitative", "axis": null}, "text": {"field": "text"}}
        },
        {
          "data": {"name": "cap"},
          "transform": [{"filter": "datum.s == 'title'"}],
          "mark": {"type": "text", "align": "left", "baseline": "alphabetic", "dx": 1.5, "fontSize": 29, "fontStyle": "italic", "font": "Liberation Sans", "color": "#000000"},
          "encoding": {
            "x": {"datum": 0, "type": "quantitative", "axis": null},
            "y": {"datum": -33.9709, "type": "quantitative", "axis": null},
            "text": {"field": "text"}
          }
        },
        {
          "data": {"name": "cap"},
          "transform": [{"filter": "datum.s == 'letter'"}],
          "mark": {"type": "text", "align": "left", "baseline": "alphabetic", "dx": 0.5, "fontSize": 32, "fontWeight": "bold", "font": "Liberation Sans", "color": "#000000"},
          "encoding": {
            "x": {"datum": 0, "type": "quantitative", "axis": null},
            "y": {"datum": -32.5164, "type": "quantitative", "axis": null},
            "text": {"field": "text"}
          }
        },
        {
          "data": {"name": "cap"},
          "transform": [{"filter": "datum.s == 'title'"}],
          "mark": {"type": "rule", "stroke": "#000000", "strokeWidth": 2},
          "encoding": {
            "x": {"datum": -8, "type": "quantitative", "axis": null},
            "y": {"datum": -35.1818, "type": "quantitative", "axis": null},
            "y2": {"datum": 15.5818}
          }
        },
        {
          "data": {"name": "cap"},
          "transform": [{"filter": "datum.s == 'title'"}],
          "mark": {"type": "rule", "stroke": "#000000", "strokeWidth": 2},
          "encoding": {
            "x": {"datum": -8, "type": "quantitative", "axis": null},
            "x2": {"datum": 1218},
            "y": {"datum": -35.1818, "type": "quantitative", "axis": null}
          }
        }
      ]
    }
  ],
  "resolve": {"scale": {"x": "independent", "y": "independent"}}
}
